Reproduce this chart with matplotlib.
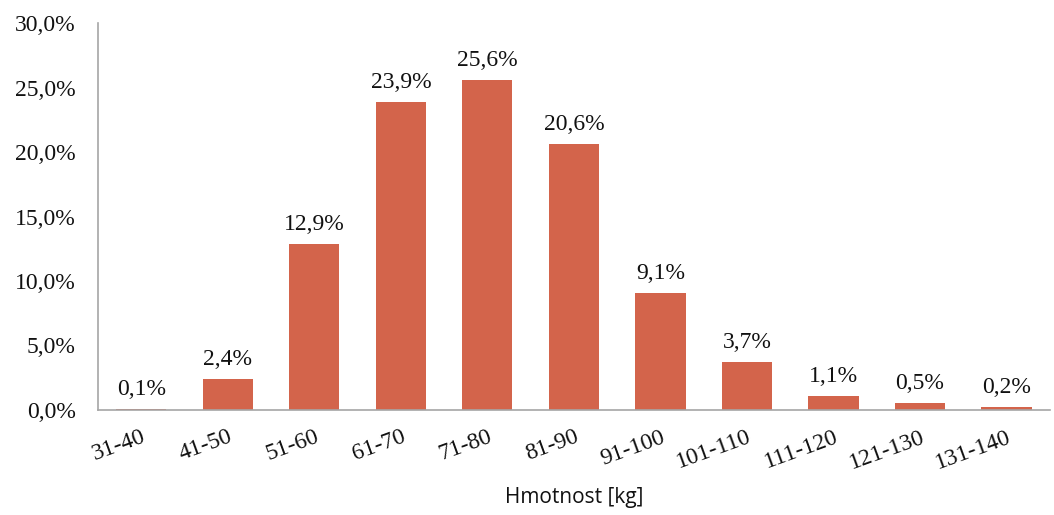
import matplotlib
matplotlib.use("Agg")
import matplotlib.pyplot as plt
from matplotlib.ticker import FuncFormatter

categories = ["31-40", "41-50", "51-60", "61-70", "71-80", "81-90",
              "91-100", "101-110", "111-120", "121-130", "131-140"]
shares = [0.1, 2.4, 12.9, 23.9, 25.6, 20.6, 9.1, 3.7, 1.1, 0.5, 0.2]
y_ticks = [0, 5, 10, 15, 20, 25, 30]

bar_color = "#D3644B"
serif = ["Liberation Serif", "DejaVu Serif"]
fs = 17

fig = plt.figure(figsize=(10.54, 5.15), dpi=100)
ax = fig.add_axes([0.093, 0.204, 0.903, 0.751])

x = range(len(categories))
ax.bar(x, shares, width=0.58, color=bar_color, zorder=2)

for xi, v in zip(x, shares):
    ax.text(xi, v + 0.7, f"{v:.1f}%".replace(".", ","), ha="center", va="bottom",
            fontsize=fs, family=serif, color="#111111")

ax.set_xlim(-0.5, len(categories) - 0.5)
ax.set_ylim(0, 30)
ax.set_yticks(y_ticks)
ax.yaxis.set_major_formatter(FuncFormatter(lambda v, p: f"{v:.1f}%".replace(".", ",")))
ax.set_xticks(list(x))
ax.set_xticklabels(categories, rotation=20, ha="right", rotation_mode="anchor",
                   family=serif, fontsize=fs)
for lab in ax.get_yticklabels():
    lab.set_family(serif)
    lab.set_fontsize(fs)

ax.tick_params(axis="both", length=0, colors="#111111")
ax.tick_params(axis="x", pad=12)
ax.tick_params(axis="y", pad=16)

for side in ["top", "right"]:
    ax.spines[side].set_visible(False)
for side in ["left", "bottom"]:
    ax.spines[side].set_color("#A6A6A6")
    ax.spines[side].set_linewidth(1.2)

ax.set_xlabel("Hmotnost [kg]", family="Open Sans", fontsize=15, labelpad=10, color="#111111")

fig.savefig("out.png", dpi=100)
